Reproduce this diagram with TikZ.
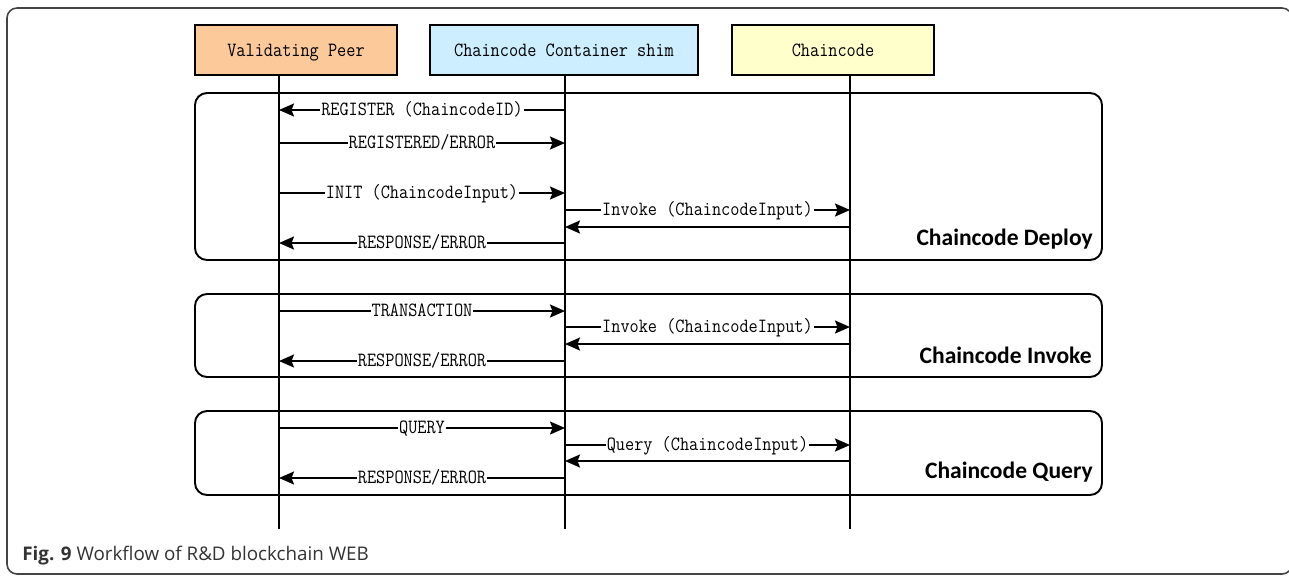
\documentclass[tikz,border=0pt]{standalone}
\usepackage{fontspec}
\setmainfont{Open Sans}
\newfontfamily\msgfont[FakeStretch=0.88]{Latin Modern Mono}
\newfontfamily\grpfont{Carlito}
\usetikzlibrary{arrows.meta}
\definecolor{peerfill}{HTML}{FCC99A}
\definecolor{shimfill}{HTML}{CCEEFF}
\definecolor{ccfill}{HTML}{FFFFCC}
\definecolor{framegray}{HTML}{444444}
\definecolor{captext}{HTML}{333333}

\begin{document}
\begin{tikzpicture}[x=0.02cm,y=-0.02cm,
  hdr/.style={draw,line width=1.1pt,minimum height=1cm,inner sep=0pt,
    text height=1.6ex,text depth=0.3ex,
    font=\msgfont\fontsize{11.5}{13}\selectfont},
  life/.style={line width=1.1pt},
  grp/.style={line width=1.1pt,rounded corners=0.24cm},
  grplbl/.style={anchor=east,inner sep=0pt,font=\grpfont\bfseries\fontsize{13.4}{15}\selectfont},
  msg/.style={line width=1.1pt,-{Stealth[length=3mm,width=2.6mm,inset=0.5mm]}},
  ret/.style={line width=1.1pt,-{Stealth[length=3mm,width=2.6mm,inset=0.5mm]}},
  lbl/.style={fill=white,inner sep=0.5pt,text height=1.7ex,text depth=0.45ex,
    font=\msgfont\fontsize{11.5}{13}\selectfont}]
\useasboundingbox (0,0) rectangle (1289,576);
% outer frame
\draw[framegray,line width=0.9pt,rounded corners=0.2cm] (7,8) rectangle (1292,574);

% headers
\node[hdr,fill=peerfill,minimum width=4.04cm] (hvp) at (296,50) {Validating Peer};
\node[hdr,fill=shimfill,minimum width=5.36cm] (hsh) at (564,50) {Chaincode Container shim};
\node[hdr,fill=ccfill,minimum width=4.04cm] (hcc) at (833,50) {Chaincode};

% lifelines
\coordinate (vp) at (279,0);
\coordinate (sh) at (565,0);
\coordinate (cc) at (850,0);
\coordinate (bot) at (0,529);
\draw[life] (vp |- hvp.south) -- (vp |- bot);
\draw[life] (sh |- hsh.south) -- (sh |- bot);
\draw[life] (cc |- hcc.south) -- (cc |- bot);

% groups
\draw[grp] (195,93) rectangle (1102,260);
\draw[grp] (195,294) rectangle (1102,377);
\draw[grp] (195,411) rectangle (1102,495);
\node[grplbl] (gdep) at (1093,239) {Chaincode Deploy};
\node[grplbl] (ginv) at (1092,355) {Chaincode Invoke};
\node[grplbl] (gqry) at (1093,472) {Chaincode Query};

% message rows
\foreach \n/\y in {reg/110,regd/143,init/193,dinv/210,dret/227,dres/243,
  tx/311,iinv/327,iret/344,ires/361,qry/428,qinv/445,qret/461,qres/478}
  \coordinate (\n) at (0,\y);

% deploy
\draw[msg] (sh |- reg) -- node[lbl] {REGISTER (ChaincodeID)} (vp |- reg);
\draw[msg] (vp |- regd) -- node[lbl] {REGISTERED/ERROR} (sh |- regd);
\draw[msg] (vp |- init) -- node[lbl] {INIT (ChaincodeInput)} (sh |- init);
\draw[msg] (sh |- dinv) -- node[lbl] {Invoke (ChaincodeInput)} (cc |- dinv);
\draw[ret] (cc |- dret) -- (sh |- dret);
\draw[msg] (sh |- dres) -- node[lbl] {RESPONSE/ERROR} (vp |- dres);

% invoke
\draw[msg] (vp |- tx) -- node[lbl] {TRANSACTION} (sh |- tx);
\draw[msg] (sh |- iinv) -- node[lbl] {Invoke (ChaincodeInput)} (cc |- iinv);
\draw[ret] (cc |- iret) -- (sh |- iret);
\draw[msg] (sh |- ires) -- node[lbl] {RESPONSE/ERROR} (vp |- ires);

% query
\draw[msg] (vp |- qry) -- node[lbl] {QUERY} (sh |- qry);
\draw[msg] (sh |- qinv) -- node[lbl] {Query (ChaincodeInput)} (cc |- qinv);
\draw[ret] (cc |- qret) -- (sh |- qret);
\draw[msg] (sh |- qres) -- node[lbl] {RESPONSE/ERROR} (vp |- qres);

% caption
\node[anchor=west,inner sep=0pt,text=captext,font=\fontsize{10.7}{12}\selectfont] (cap) at (22,556)
  {\textbf{Fig. 9} Workflow of R\&D blockchain WEB};
\end{tikzpicture}
\end{document}
